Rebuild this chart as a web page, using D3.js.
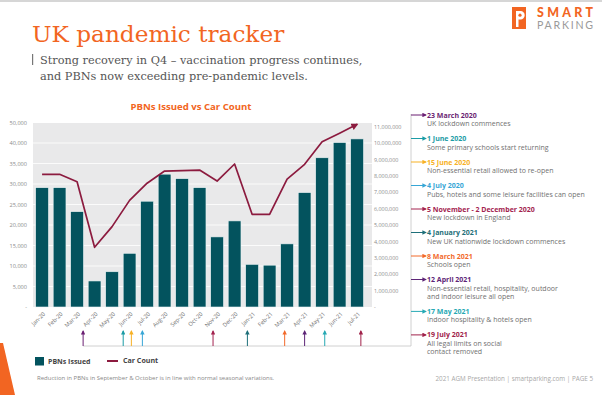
<!DOCTYPE html>
<html>
<head>
<meta charset="utf-8">
<script src="https://cdn.jsdelivr.net/npm/d3@7"></script>
<style>
  body { margin: 0; background: #fff; }
  svg { display: block; font-family: "Open Sans", Lato, sans-serif; }
</style>
</head>
<body>
<div id="chart"></div>
<script>
(function(){
  'use strict';

  // monthly data
  var months = ["Jan-20","Feb-20","Mar-20","Apr-20","May-20","Jun-20","Jul-20","Aug-20","Sep-20","Oct-20",
                "Nov-20","Dec-20","Jan-21","Feb-21","Mar-21","Apr-21","May-21","Jun-21","Jul-21"];
  var pbns = [29100, 29100, 23250, 6350, 8600, 13100, 25800, 32400, 31300, 29100,
              17100, 21000, 10400, 10200, 15400, 27900, 36400, 40100, 41000];
  var carCount = [8090000, 8090000, 7640000, 3640000, 4900000, 6500000, 7550000, 8290000, 8320000, 8350000,
                  7680000, 8720000, 5650000, 5650000, 7800000, 8700000, 10080000, 10600000, 11140000];

  var leftTicks = [0, 5000, 10000, 15000, 20000, 25000, 30000, 35000, 40000, 45000];
  var leftTickLabels = ["-", "5,000", "10,000", "15,000", "20,000", "25,000", "30,000", "35,000", "40,000", "50,000"];
  var rightTicks = [0, 1e6, 2e6, 3e6, 4e6, 5e6, 6e6, 7e6, 8e6, 9e6, 10e6, 11e6];
  var rightTickLabels = ["-", "1,000,000", "2,000,000", "3,000,000", "4,000,000", "5,000,000", "6,000,000",
                         "7,000,000", "8,000,000", "9,000,000", "10,000,000", "11,000,000"];

  var eventDates = ["2020-03-23","2020-06-01","2020-06-15","2020-07-04","2020-11-05",
                    "2021-01-04","2021-03-08","2021-04-12","2021-05-17","2021-07-19"];
  var eventTitles = ["23 March 2020","1 June 2020","15 June 2020","4 July 2020","5 November - 2 December 2020",
                     "4 January 2021","8 March 2021","12 April 2021","17 May 2021","19 July 2021"];
  var eventTexts = [
    ["UK lockdown commences"],
    ["Some primary schools start returning"],
    ["Non-essential retail allowed to re-open"],
    ["Pubs, hotels and some leisure facilities can open"],
    ["New lockdown in England"],
    ["New UK nationwide lockdown commences"],
    ["Schools open"],
    ["Non-essential retail, hospitality, outdoor", "and indoor leisure all open"],
    ["Indoor hospitality & hotels open"],
    ["All legal limits on social", "contact removed"]
  ];
  var eventColors = ["#6b1f73","#1b9ca6","#f7b125","#37a6d6","#a3234f",
                     "#1e6f79","#f26a2b","#5d2577","#27a9b4","#a0224a"];

  var W = 602, H = 395;
  var orange = "#f26522", teal = "#03535e", maroon = "#8c1b3f";

  var svg = d3.select("#chart").append("svg")
    .attr("width", W).attr("height", H);

  svg.append("defs").selectAll("marker")
    .data(eventColors.concat([maroon]))
    .enter().append("marker")
      .attr("id", function(d, i){ return "arr" + i; })
      .attr("viewBox", "0 0 10 10")
      .attr("refX", 8).attr("refY", 5)
      .attr("markerWidth", 4.5).attr("markerHeight", 4.5)
      .attr("markerUnits", "userSpaceOnUse")
      .attr("orient", "auto")
    .append("path")
      .attr("d", "M0,0L10,5L0,10z")
      .attr("fill", function(d){ return d; });

  // top shadow line + decorative wedge
  svg.append("rect").attr("x", 0).attr("y", 0).attr("width", W).attr("height", 2).attr("fill", "#d6d6d6");
  svg.append("path").attr("d", "M0,343L3,343L15,395L0,395z").attr("fill", orange);

  // header
  svg.append("text").attr("x", 32).attr("y", 42)
    .attr("font-family", "DejaVu Serif").attr("font-size", 23.2).attr("fill", orange)
    .text("UK pandemic tracker");
  svg.append("rect").attr("x", 32).attr("y", 54).attr("width", 1.2).attr("height", 11).attr("fill", "#777");
  var sub = svg.append("text").attr("font-family", "DejaVu Serif").attr("font-size", 11.3).attr("fill", "#555");
  sub.append("tspan").attr("x", 40).attr("y", 64).text("Strong recovery in Q4 \u2013 vaccination progress continues,");
  sub.append("tspan").attr("x", 40).attr("y", 80).text("and PBNs now exceeding pre-pandemic levels.");

  // logo
  svg.append("rect").attr("x", 512).attr("y", 7).attr("width", 14).attr("height", 22).attr("fill", orange);
  svg.append("path").attr("d", "M516,27V11h4.5a4.2,4.2 0 0 1 0,8.4H518.5V27z").attr("fill", "#fff");
  svg.append("circle").attr("cx", 520).attr("cy", 15.2).attr("r", 1.6).attr("fill", orange);
  svg.append("text").attr("x", 537).attr("y", 17.3).attr("font-size", 12.4).attr("font-weight", 900)
    .attr("font-family", "Lato").attr("fill", orange).attr("textLength", 56).text("SMART");
  svg.append("text").attr("x", 537).attr("y", 29.3).attr("font-size", 10.6).attr("fill", "#9a9a9a")
    .attr("font-family", "Lato").attr("textLength", 56).text("PARKING");

  // chart frame
  var left = 33, right = 372, top = 123, bottom = 307;

  var x = d3.scaleBand().domain(months).range([left, right])
    .paddingInner(0.27).paddingOuter(0.32).align(0.24);
  var yL = d3.scaleLinear().domain([0, 45000]).range([bottom, 122.5]);
  var yR = d3.scaleLinear().domain([0, 11e6]).range([bottom, 126.6]);

  svg.append("text").attr("x", 191).attr("y", 110).attr("text-anchor", "middle")
    .attr("font-size", 9.6).attr("font-weight", 700).attr("fill", orange)
    .text("PBNs Issued vs Car Count");

  svg.append("rect").attr("x", left).attr("y", top).attr("width", right - left).attr("height", bottom - top)
    .attr("fill", "#e9e9ea");

  svg.append("g").selectAll("line").data(leftTicks.slice(1)).enter().append("line")
    .attr("x1", left).attr("x2", right)
    .attr("y1", function(d){ return yL(d); }).attr("y2", function(d){ return yL(d); })
    .attr("stroke", "#fff").attr("stroke-width", 0.8);

  var axL = svg.append("g").attr("transform", "translate(" + (left - 3) + ",0)")
    .call(d3.axisLeft(yL).tickValues(leftTicks).tickSize(0)
      .tickFormat(function(d, i){ return leftTickLabels[i]; }));
  axL.select(".domain").remove();
  axL.selectAll("text").attr("fill", "#8c8c8c").attr("font-size", 5.6).attr("font-family", "Open Sans");

  var axR = svg.append("g").attr("transform", "translate(" + (right - 1) + ",0)")
    .call(d3.axisRight(yR).tickValues(rightTicks).tickSize(0)
      .tickFormat(function(d, i){ return rightTickLabels[i]; }));
  axR.select(".domain").remove();
  axR.selectAll("text").attr("fill", "#8c8c8c").attr("font-size", 5.4).attr("font-family", "Open Sans");

  var axX = svg.append("g").attr("transform", "translate(0," + bottom + ")")
    .call(d3.axisBottom(x).tickSize(0));
  axX.select(".domain").remove();
  axX.selectAll(".tick text")
    .attr("fill", "#6e6e6e").attr("font-size", 5.7).attr("font-family", "Open Sans")
    .attr("text-anchor", "end").attr("x", 0).attr("y", 0).attr("dy", "0.35em")
    .attr("transform", "translate(2,6) rotate(-45)");

  // bars
  svg.append("g").selectAll("rect").data(pbns).enter().append("rect")
    .attr("x", function(d, i){ return x(months[i]); })
    .attr("width", x.bandwidth())
    .attr("y", function(d){ return yL(d); })
    .attr("height", function(d){ return bottom - yL(d); })
    .attr("fill", teal)
    .attr("stroke", "#e9f2f3").attr("stroke-width", 0.6);

  // car count line
  var line = d3.line()
    .x(function(d, i){ return x(months[i]) + x.bandwidth() / 2; })
    .y(function(d){ return yR(d); });
  svg.append("path").datum(carCount)
    .attr("d", line).attr("fill", "none")
    .attr("stroke", maroon).attr("stroke-width", 1.7).attr("stroke-linejoin", "round")
    .attr("marker-end", "url(#arr" + eventColors.length + ")");
  svg.select("#arr" + eventColors.length).attr("markerWidth", 7).attr("markerHeight", 7);

  // timeline below chart
  var parse = d3.timeParse("%Y-%m-%d");
  var fmtMonth = d3.timeFormat("%b-%y");
  function dateX(s){
    var d = parse(s);
    var dim = d3.timeDay.count(d3.timeMonth.floor(d), d3.timeMonth.ceil(new Date(d.getTime() + 1)));
    return x(fmtMonth(d)) + (d.getDate() - 1) / dim * x.step();
  }
  var lineY = 346, panelX = 411;
  var xs = eventDates.map(dateX);

  svg.append("path")
    .attr("d", "M" + xs[0] + "," + lineY + "H" + panelX + "V114")
    .attr("fill", "none").attr("stroke", "#c4c4c4").attr("stroke-width", 0.8);

  svg.append("g").selectAll("line").data(xs).enter().append("line")
    .attr("x1", function(d){ return d; }).attr("x2", function(d){ return d; })
    .attr("y1", lineY).attr("y2", 331)
    .attr("stroke", function(d, i){ return eventColors[i]; }).attr("stroke-width", 1)
    .attr("marker-end", function(d, i){ return "url(#arr" + i + ")"; });

  // annotation panel
  var ys = [];
  var yy = 115;
  eventTexts.forEach(function(t){ ys.push(yy); yy += 23.5 + 8.4 * (t.length - 1); });

  var ann = svg.append("g").selectAll("g").data(eventTitles).enter().append("g")
    .attr("transform", function(d, i){ return "translate(0," + ys[i] + ")"; });
  ann.append("line").attr("x1", panelX).attr("x2", 426).attr("y1", 0).attr("y2", 0)
    .attr("stroke", function(d, i){ return eventColors[i]; }).attr("stroke-width", 1)
    .attr("marker-end", function(d, i){ return "url(#arr" + i + ")"; });
  ann.append("text").attr("x", 427).attr("y", 2.5)
    .attr("font-size", 7).attr("font-weight", 700)
    .attr("fill", function(d, i){ return eventColors[i]; })
    .text(function(d){ return d; });
  ann.each(function(d, i){
    var g = d3.select(this);
    eventTexts[i].forEach(function(t, j){
      g.append("text").attr("x", 427).attr("y", 11 + j * 8.4)
        .attr("font-size", 7).attr("fill", "#707070").text(t);
    });
  });

  // legend
  svg.append("rect").attr("x", 35).attr("y", 357).attr("width", 9).attr("height", 8.5).attr("fill", teal);
  svg.append("text").attr("x", 48).attr("y", 363.5).attr("font-size", 7).attr("font-weight", 700)
    .attr("fill", "#444").text("PBNs Issued");
  svg.append("line").attr("x1", 107).attr("x2", 118).attr("y1", 361).attr("y2", 361)
    .attr("stroke", maroon).attr("stroke-width", 2);
  svg.append("text").attr("x", 123).attr("y", 363.3).attr("font-size", 7.1).attr("font-weight", 700)
    .attr("fill", "#444").text("Car Count");

  // footers
  svg.append("text").attr("x", 37).attr("y", 379.5).attr("font-size", 6).attr("fill", "#888")
    .text("Reduction in PBNs in September & October is in line with normal seasonal variations.");
  svg.append("text").attr("x", 593).attr("y", 381).attr("text-anchor", "end")
    .attr("font-size", 6.3).attr("fill", "#a8a8a8")
    .text("2021 AGM Presentation  |  smartparking.com  |  PAGE 5");
})();
</script>
</body>
</html>
